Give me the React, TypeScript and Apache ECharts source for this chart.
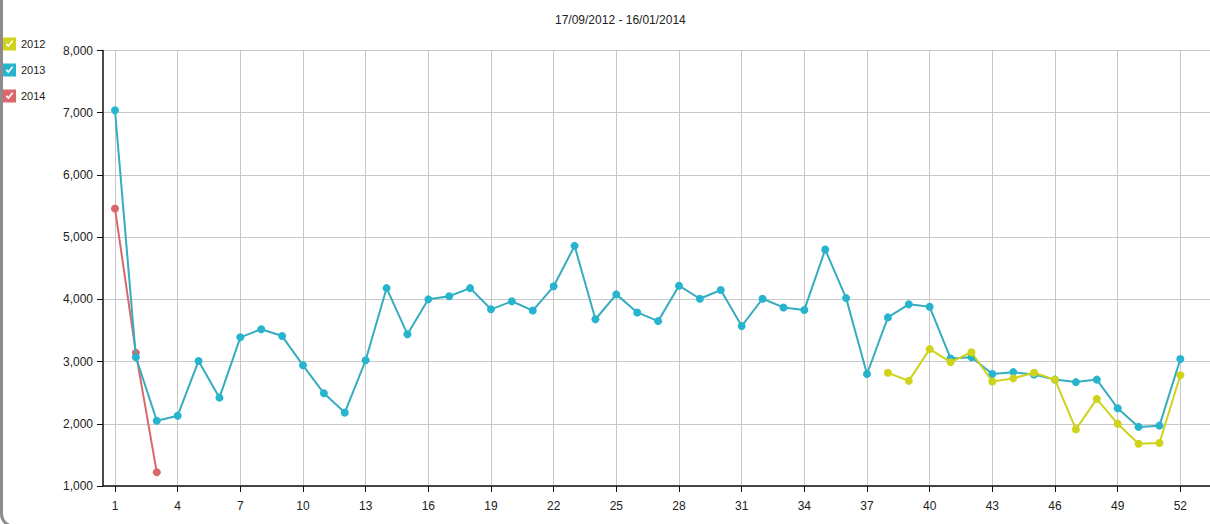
import React, { useEffect, useRef } from "react";
import * as echarts from "echarts";

const weeks = [1, 2, 3, 4, 5, 6, 7, 8, 9, 10, 11, 12, 13, 14, 15, 16, 17, 18, 19, 20, 21, 22, 23, 24, 25, 26,
  27, 28, 29, 30, 31, 32, 33, 34, 35, 36, 37, 38, 39, 40, 41, 42, 43, 44, 45, 46, 47, 48, 49, 50, 51, 52];

const xTickLabels = [1, 4, 7, 10, 13, 16, 19, 22, 25, 28, 31, 34, 37, 40, 43, 46, 49, 52];

const values2012: (number | null)[] = [
  null, null, null, null, null, null, null, null, null, null, null, null, null,
  null, null, null, null, null, null, null, null, null, null, null, null, null,
  null, null, null, null, null, null, null, null, null, null, null,
  2820, 2690, 3200, 2990, 3150, 2680, 2730, 2820, 2710, 1910, 2400, 2000, 1680, 1690, 2780,
];

const values2013: (number | null)[] = [
  7040, 3070, 2050, 2130, 3010, 2420, 3390, 3520, 3410, 2940, 2490, 2180, 3020,
  4180, 3440, 4000, 4050, 4180, 3840, 3970, 3820, 4210, 4860, 3680, 4080, 3790,
  3650, 4220, 4010, 4150, 3570, 4010, 3870, 3830, 4800, 4020, 2800, 3710, 3920,
  3880, 3050, 3070, 2800, 2830, 2790, 2710, 2670, 2710, 2250, 1950, 1970, 3040,
];

const values2014: (number | null)[] = [5460, 3140, 1220];

const seriesNames = ["2012", "2013", "2014"];
const subtitle = "17/09/2012 - 16/01/2014";

const checkIcon =
  "path://M0,0H12V12H0Z M2.5,6.5L5,9L9.5,3.5L8.3,2.6L5,6.7L3.5,5.3Z";

function pairs(vals: (number | null)[]) {
  return vals.map((v, i) => [weeks[i], v]);
}

function fmt(v: number) {
  return String(v).replace(/\B(?=(\d{3})+(?!\d))/g, ",");
}

export default function App() {
  const ref = useRef<HTMLDivElement>(null);
  useEffect(() => {
    if (!ref.current) return;
    const chart = echarts.init(ref.current, null, { renderer: "svg" });
    const font = "'Liberation Sans', Arial, sans-serif";
    const mk = (name: string, vals: (number | null)[], color: string, lineColor: string, z: number) => ({
      name,
      type: "line",
      data: pairs(vals),
      symbol: "circle",
      symbolSize: 8,
      showSymbol: true,
      connectNulls: false,
      z,
      itemStyle: { color },
      lineStyle: { color: lineColor, width: 2 },
      emphasis: { disabled: true },
    });
    chart.setOption({
      animation: false,
      backgroundColor: "#ffffff",
      title: {
        text: subtitle,
        left: 555,
        top: 14,
        padding: 0,
        textStyle: { color: "#222", fontSize: 12, fontWeight: "normal", fontFamily: font },
      },
      legend: {
        orient: "vertical",
        left: 3,
        top: 37.5,
        padding: 0,
        itemWidth: 13,
        itemHeight: 13,
        itemGap: 13,
        icon: checkIcon,
        data: seriesNames,
        textStyle: { color: "#222", fontSize: 11, fontFamily: font },
      },
      grid: { left: 103, right: 0, top: 50.5, bottom: 38, containLabel: false },
      xAxis: {
        type: "value",
        min: 0.4255,
        max: 53.42,
        axisLine: { show: true, lineStyle: { color: "#111", width: 1.5 } },
        axisTick: {
          show: true,
          length: 6,
          lineStyle: { color: "#111" },
          customValues: xTickLabels,
        },
        axisLabel: {
          color: "#222",
          fontSize: 12,
          fontFamily: font,
          margin: 14,
          customValues: xTickLabels,
        },
        splitLine: { show: true, lineStyle: { color: "#c8c8c8", width: 1 } },
      },
      yAxis: {
        type: "value",
        min: 1000,
        max: 8000,
        interval: 1000,
        axisLine: { show: true, lineStyle: { color: "#111", width: 1.5 } },
        axisTick: { show: true, length: 6, lineStyle: { color: "#111" } },
        axisLabel: {
          color: "#222",
          fontSize: 12,
          fontFamily: font,
          margin: 10,
          formatter: (v: number) => fmt(v),
        },
        splitLine: { show: true, lineStyle: { color: "#c8c8c8", width: 1 } },
      },
      graphic: [
        {
          type: "rect",
          silent: true,
          shape: { x: 1.5, y: -30, width: 1300, height: 556, r: 12 },
          style: { fill: "none", stroke: "#8c8c8c", lineWidth: 3 },
          z: 100,
        },
      ],
      series: [
        mk("2012", values2012, "#cfd31b", "#cfd31b", 4),
        mk("2013", values2013, "#27b4cf", "#36adbf", 3),
        mk("2014", values2014, "#d9686d", "#d9686d", 2),
      ],
    });
    return () => chart.dispose();
  }, []);
  return (
    <div
      ref={ref}
      style={{ position: "fixed", left: 0, top: 0, width: 1210, height: 524, background: "#fff" }}
    />
  );
}
